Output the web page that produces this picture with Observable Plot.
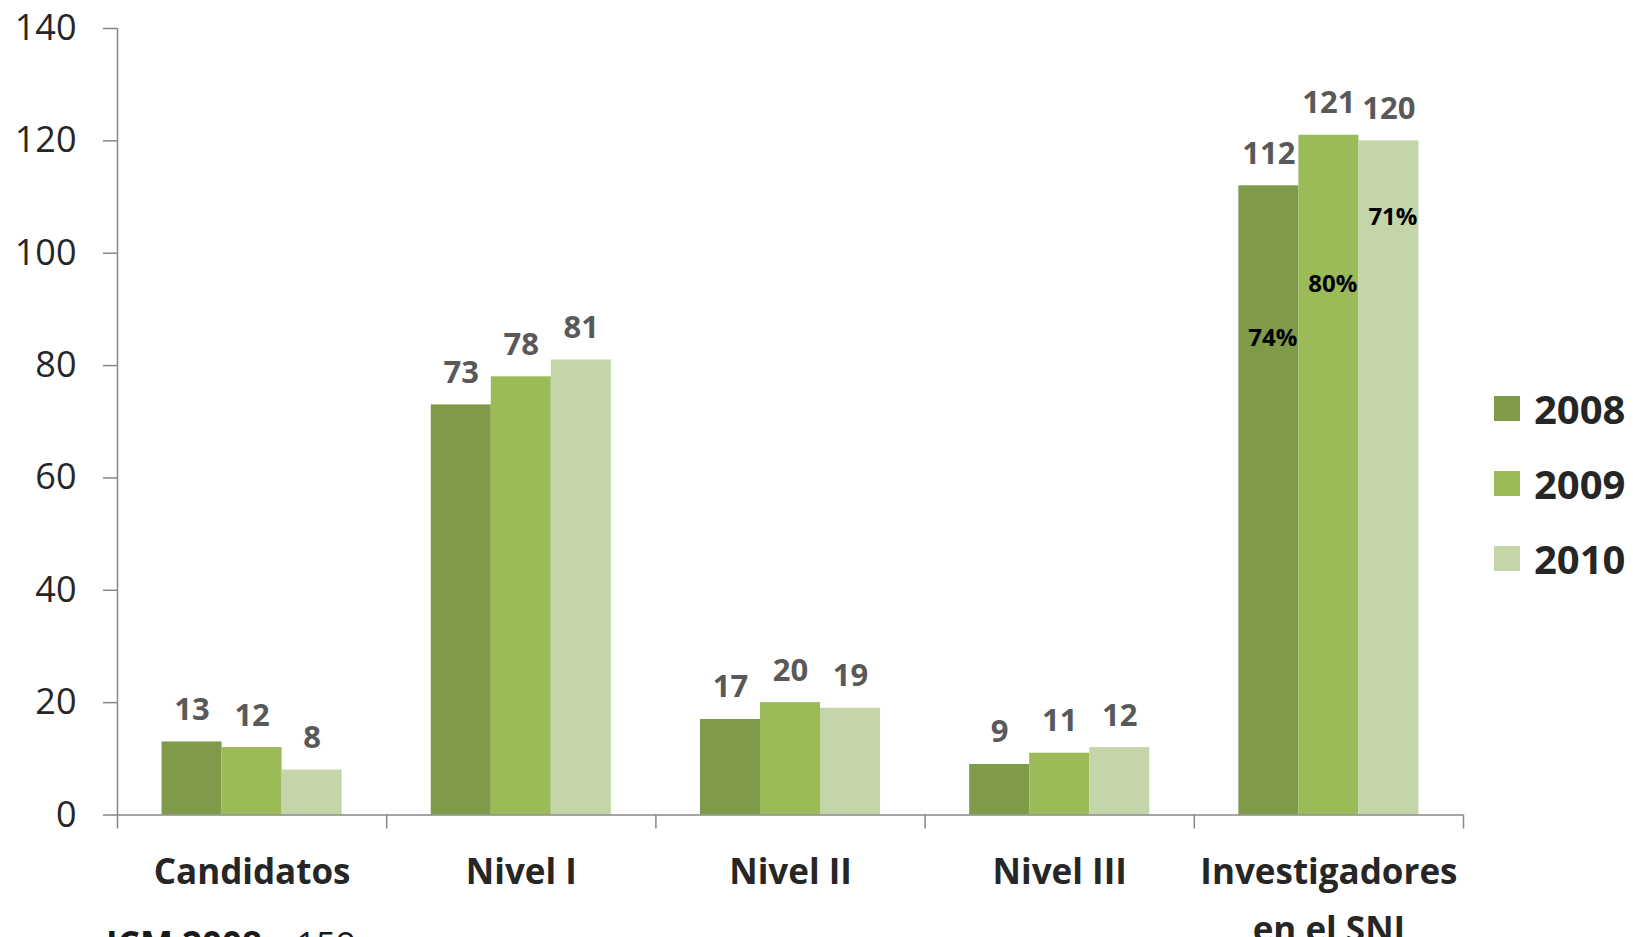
<!DOCTYPE html>
<html><head><meta charset="utf-8">
<script src="https://cdn.jsdelivr.net/npm/d3@7"></script>
<script src="https://cdn.jsdelivr.net/npm/@observablehq/plot@0.6"></script>
<style>
body{margin:0;background:#fff;font-family:"Open Sans",sans-serif;}
#wrap{position:relative;width:1633px;height:937px;overflow:hidden;background:#fff;}
#legend{position:absolute;left:1494px;top:371px;}
.item{display:flex;align-items:center;height:75px;}
.sw{width:26px;height:25px;margin-right:14px;}
.lab{font-size:40px;font-weight:700;color:#262626;line-height:1;}
#caption{position:absolute;left:106px;top:926px;font-size:35px;line-height:1;color:#1a1a1a;white-space:nowrap;}
#caption b{font-weight:700;margin-right:24px;}
</style></head><body><div id="wrap"></div><script>
const categories = ["Candidatos","Nivel I","Nivel II","Nivel III","Investigadores\nen el SNI"];
const years = ["2008","2009","2010"];
const values2008 = [13,73,17,9,112];
const values2009 = [12,78,20,11,121];
const values2010 = [8,81,19,12,120];
const colors = ["#7f9a48","#9bbb59","#c5d5aa"];
const yTicks = [0,20,40,60,80,100,120,140];
const sniPercent = ["74%","80%","71%"];
const captionBold = "ICM 2008:";
const captionValue = "159";

const series = [values2008, values2009, values2010];
const rows = categories.flatMap((c, i) => years.map((y, j) => ({cat: i, name: c, year: y, j, value: series[j][i]})));

const barW = 0.223;
const half = barW * years.length / 2;
const x1 = d => d.cat - half + d.j * barW;
const x2 = d => x1(d) + barW;
const xc = d => x1(d) + barW / 2;

const pctDy = [160, 157, 84];
const sniIndex = categories.length - 1;

const gray = "#878787";

const plot = Plot.plot({
  width: 1633, height: 937,
  marginLeft: 117, marginRight: 170, marginTop: 28, marginBottom: 122.5,
  style: {fontFamily: "Open Sans", background: "#fff"},
  x: {domain: [-0.5, categories.length - 0.5]},
  y: {domain: [0, 140]},
  color: {domain: years, range: colors},
  marks: [
    Plot.rectY(rows, {x1, x2, y: "value", fill: "year"}),
    Plot.ruleY([0], {stroke: gray, strokeWidth: 1.5}),
    Plot.ruleX([-0.5], {stroke: gray, strokeWidth: 1.5}),
    Plot.axisY({ticks: yTicks, tickSize: 14, tickPadding: 27, fontSize: 36, stroke: gray, strokeWidth: 1.5, fill: "#262626", label: null, tickFormat: d => String(d)}),
    Plot.axisX({ticks: d3.range(categories.length + 1).map(i => i - 0.5), tickSize: 14, stroke: gray, strokeWidth: 1.5, tickFormat: () => "", label: null}),
    Plot.axisX({ticks: d3.range(categories.length), tickSize: 0, tickPadding: 27.5, fontSize: 35, fontWeight: 700, fill: "#262626", lineHeight: 1.66, tickFormat: i => categories[i], label: null}),
    Plot.text(rows, {x: xc, y: "value", text: d => String(d.value), lineAnchor: "bottom", dy: -22, fontSize: 31, fontWeight: 700, fill: "#595959"}),
    ...years.map((yr, j) => Plot.text(rows.filter(d => d.cat === sniIndex && d.j === j), {x: xc, y: "value", text: () => sniPercent[j], lineAnchor: "bottom", dy: pctDy[j], dx: 4, fontSize: 24, fontWeight: 700, fill: "#000"}))
  ]
});

const wrap = document.getElementById("wrap");
wrap.appendChild(plot);

const legend = document.createElement("div");
legend.id = "legend";
years.forEach((y, j) => {
  const it = document.createElement("div"); it.className = "item";
  const sw = document.createElement("div"); sw.className = "sw"; sw.style.background = colors[j];
  const lb = document.createElement("div"); lb.className = "lab"; lb.textContent = y;
  it.appendChild(sw); it.appendChild(lb); legend.appendChild(it);
});
wrap.appendChild(legend);

const cap = document.createElement("div");
cap.id = "caption";
const b = document.createElement("b"); b.textContent = captionBold;
cap.appendChild(b);
cap.appendChild(document.createTextNode(captionValue));
wrap.appendChild(cap);
</script></body></html>
